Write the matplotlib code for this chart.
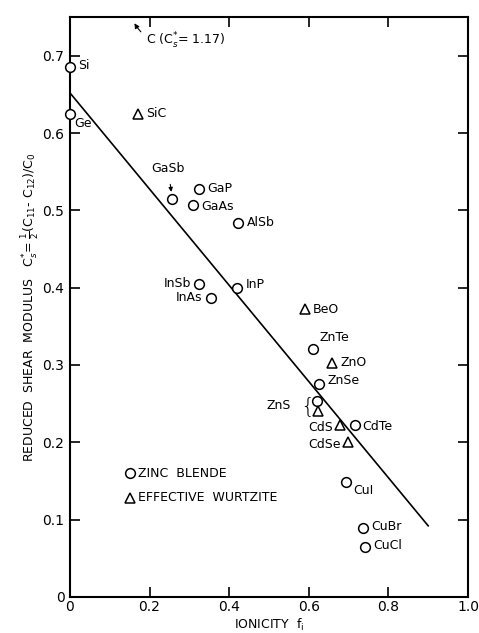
import matplotlib.pyplot as plt
import numpy as np

plt.rcParams['font.family'] = ['DejaVu Sans']

# zinc blende compounds (circles)
zb_names = ['Si', 'Ge', 'GaSb', 'GaP', 'GaAs', 'AlSb', 'InSb', 'InAs', 'InP',
            'ZnTe', 'ZnSe', 'ZnS', 'CdTe', 'CuI', 'CuBr', 'CuCl']
zb_fi = [0.0, 0.0, 0.257, 0.325, 0.308, 0.423, 0.325, 0.354, 0.42,
         0.61, 0.626, 0.621, 0.716, 0.694, 0.736, 0.741]
zb_cs = [0.685, 0.625, 0.515, 0.527, 0.507, 0.484, 0.405, 0.387, 0.40,
         0.321, 0.276, 0.254, 0.222, 0.148, 0.089, 0.065]

# effective wurtzite compounds (triangles)
wz_names = ['SiC', 'BeO', 'ZnO', 'ZnS', 'CdS', 'CdSe']
wz_fi = [0.171, 0.59, 0.658, 0.623, 0.678, 0.698]
wz_cs = [0.625, 0.372, 0.303, 0.240, 0.223, 0.201]

# straight-line fit
fit_fi = [0.0, 0.9]
fit_cs = [0.652, 0.092]

# label offsets in points (dx, dy, ha)
zb_off = {'Si': (6, 1, 'left'), 'Ge': (3, -7, 'left'), 'GaSb': (-3, 14, 'center'),
          'GaP': (6, 1, 'left'), 'GaAs': (6, -1, 'left'), 'AlSb': (6, 0, 'left'),
          'InSb': (-6, 0, 'right'), 'InAs': (-6, 0, 'right'), 'InP': (6, 2, 'left'),
          'ZnTe': (5, 8, 'left'), 'ZnSe': (6, 2, 'left'), 'ZnS': None,
          'CdTe': (5, -1, 'left'), 'CuI': (5, -6, 'left'), 'CuBr': (6, 1, 'left'),
          'CuCl': (6, 1, 'left')}
wz_off = {'SiC': (6, 0, 'left'), 'BeO': (6, 0, 'left'), 'ZnO': (6, 0, 'left'),
          'ZnS': None, 'CdS': (-5, -2, 'right'), 'CdSe': (-5, -2, 'right')}

fig = plt.figure(figsize=(4.79, 6.33), dpi=100)
ax = fig.add_axes([0.146, 0.057, 0.831, 0.916])

fs = 9
ax.plot(fit_fi, fit_cs, color='black', lw=1.2)
ax.plot(zb_fi, zb_cs, 'o', ms=7, mfc='white', mec='black', mew=1.1, clip_on=False, zorder=3)
ax.plot(wz_fi, wz_cs, '^', ms=6.5, mfc='white', mec='black', mew=1.1, clip_on=False, zorder=3)

for names, xs, ys, off in [(zb_names, zb_fi, zb_cs, zb_off), (wz_names, wz_fi, wz_cs, wz_off)]:
    for n, x, y in zip(names, xs, ys):
        o = off[n]
        if o is None:
            continue
        if n == 'GaSb':
            ax.annotate(n, (x, y), xytext=(o[0], o[1] + 8), textcoords='offset points',
                        ha='center', va='center', fontsize=fs,
                        arrowprops=dict(arrowstyle='-|>', lw=0.8, color='black',
                                        shrinkA=5, shrinkB=5, mutation_scale=6))
            continue
        ax.annotate(n, (x, y), xytext=(o[0], o[1]), textcoords='offset points',
                    ha=o[2], va='center', fontsize=fs)

# ZnS pair with brace
ax.annotate('ZnS', (0.621, 0.247), xytext=(-19, 0), textcoords='offset points',
            ha='right', va='center', fontsize=fs)
ax.annotate('{', (0.621, 0.247), xytext=(-7, 0), textcoords='offset points',
            ha='center', va='center', fontsize=16, fontweight='light')

# C annotation at the top
ax.annotate(r'C (C$_s^{*}$= 1.17)', xy=(0.162, 0.742), xytext=(0.19, 0.719),
            ha='left', va='center', fontsize=fs,
            arrowprops=dict(arrowstyle='-|>', lw=0.8, color='black',
                            connectionstyle='arc3,rad=-0.4', mutation_scale=7,
                            shrinkA=2, shrinkB=0))

# legend
ax.plot([0.15], [0.16], 'o', ms=7, mfc='white', mec='black', mew=1.1)
ax.plot([0.15], [0.128], '^', ms=6.5, mfc='white', mec='black', mew=1.1)
ax.text(0.172, 0.16, 'ZINC  BLENDE', fontsize=fs, va='center')
ax.text(0.172, 0.128, 'EFFECTIVE  WURTZITE', fontsize=fs, va='center')

ax.set_xlim(0, 1.0)
ax.set_ylim(0, 0.75)
ax.set_xticks([0, 0.2, 0.4, 0.6, 0.8, 1.0])
ax.set_xticklabels(['0', '0.2', '0.4', '0.6', '0.8', '1.0'])
ax.set_yticks([0, 0.1, 0.2, 0.3, 0.4, 0.5, 0.6, 0.7])
ax.set_yticklabels(['0', '0.1', '0.2', '0.3', '0.4', '0.5', '0.6', '0.7'])
ax.tick_params(direction='in', length=7, width=1.2, top=True, right=True,
               labelsize=10)
ax.tick_params(axis='x', pad=2)
ax.tick_params(axis='y', pad=4)
for s in ax.spines.values():
    s.set_linewidth(1.5)

ax.set_xlabel(r'IONICITY  f$_\mathrm{i}$', fontsize=fs, labelpad=2)
ax.set_ylabel(r'REDUCED  SHEAR  MODULUS   C$_s^{*}$= $\frac{1}{2}$(C$_{11}$- C$_{12}$)/C$_0$',
              fontsize=fs, labelpad=1)

fig.savefig('out.png', dpi=100)
